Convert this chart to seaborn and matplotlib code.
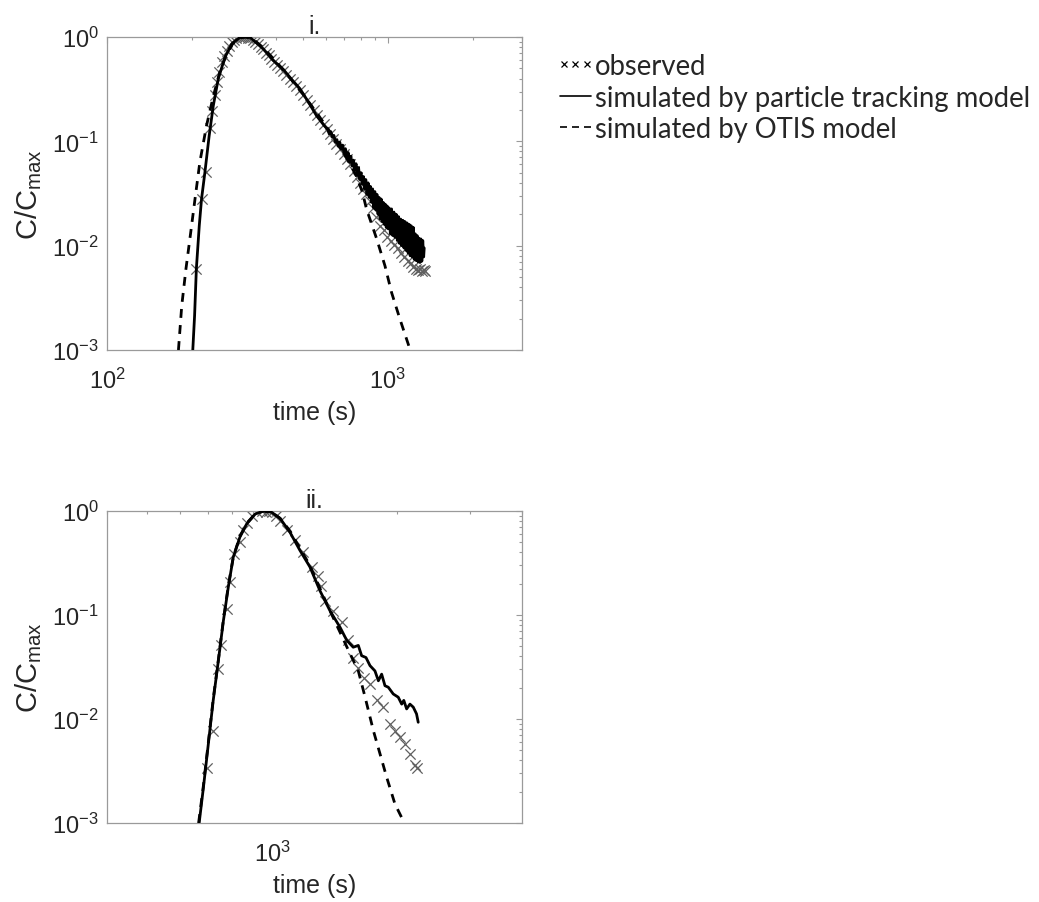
import numpy as np
import pandas as pd
import matplotlib
matplotlib.use("Agg")
import matplotlib.pyplot as plt
import seaborn as sns
from matplotlib.lines import Line2D
from matplotlib.legend_handler import HandlerLine2D
from matplotlib.ticker import LogLocator, NullFormatter

# ---- panel i. : observed (time s, C/Cmax)
obs1_t = [208, 218, 225, 233, 237, 242, 247, 251, 256, 261, 267, 272, 278, 283, 289, 294,
          300, 305, 311, 317, 323, 330, 337, 344, 352, 360, 368, 376, 385, 394, 403, 413,
          424, 435, 447, 459, 472, 486, 500, 515, 530, 545, 560, 575, 590, 605, 620, 638,
          655, 675, 695, 715, 735, 755, 775, 795, 815, 835, 860, 885, 910, 937, 965, 995,
          1025, 1055, 1085, 1115, 1145, 1175, 1205, 1230, 1255, 1280, 1300, 1320, 1340, 1355]
obs1_c = [0.006, 0.028, 0.051, 0.134, 0.197, 0.28, 0.37, 0.46, 0.57, 0.66, 0.74, 0.82, 0.89, 0.94, 0.98, 1.0,
          1.0, 0.99, 1.0, 0.98, 0.97, 0.93, 0.89, 0.85, 0.80, 0.76, 0.71, 0.67, 0.62, 0.58, 0.54, 0.50,
          0.47, 0.43, 0.40, 0.37, 0.34, 0.31, 0.28, 0.25, 0.225, 0.20, 0.18, 0.16, 0.145, 0.13, 0.118, 0.105,
          0.095, 0.085, 0.075, 0.067, 0.060, 0.052, 0.046, 0.040, 0.035, 0.031, 0.027, 0.023, 0.019, 0.0155, 0.014, 0.012,
          0.011, 0.0102, 0.0095, 0.0085, 0.0078, 0.0072, 0.0068, 0.0063, 0.0060, 0.0058, 0.0060, 0.0057, 0.0058, 0.0057]

# ---- panel i. : particle tracking model
pt1_t = [202, 205, 208, 213, 217, 223, 231, 239, 249, 263, 278, 297, 310, 323, 340, 360, 390, 424,
         455, 486, 520, 557, 595, 610, 618, 626, 634, 642, 650, 658, 666, 674, 682, 690, 698,
         706, 714, 722, 730, 738, 746, 754, 762, 770, 778, 786, 794, 802, 810, 818, 826, 834,
         842, 850, 858, 866, 874, 882, 890, 898, 906, 914, 922, 930, 938, 946, 954, 962, 970,
         978, 986, 994, 1002, 1010, 1020, 1030, 1040, 1050, 1060, 1070, 1080, 1090, 1100, 1110,
         1120, 1130, 1140, 1150, 1160, 1170, 1180, 1190, 1200, 1210, 1220, 1230, 1240, 1250,
         1260, 1270, 1280, 1290, 1300, 1310, 1320, 1330, 1340, 1346]
pt1_c = [0.001, 0.00213, 0.006, 0.0155, 0.028, 0.050, 0.113, 0.22, 0.40, 0.64, 0.86, 0.99, 1.0, 0.99, 0.88, 0.77, 0.60, 0.49,
         0.39, 0.32, 0.24, 0.176, 0.14, 0.130, 0.118, 0.124, 0.110, 0.114, 0.098, 0.104, 0.090, 0.098, 0.084, 0.092, 0.076,
         0.085, 0.070, 0.078, 0.063, 0.072, 0.058, 0.066, 0.053, 0.061, 0.047, 0.056, 0.043, 0.050, 0.039, 0.046, 0.035, 0.043,
         0.031, 0.040, 0.029, 0.037, 0.026, 0.035, 0.023, 0.033, 0.022, 0.031, 0.020, 0.029, 0.018, 0.028, 0.017, 0.026, 0.016,
         0.025, 0.015, 0.024, 0.0145, 0.023, 0.013, 0.0225, 0.0125, 0.021, 0.012, 0.020, 0.0112, 0.019, 0.0105, 0.018,
         0.010, 0.0175, 0.0095, 0.017, 0.009, 0.0165, 0.0085, 0.016, 0.008, 0.0155, 0.0078, 0.015, 0.0074, 0.013,
         0.0072, 0.0125, 0.007, 0.0118, 0.0069, 0.0116, 0.0071, 0.0112, 0.0078, 0.0095]

# ---- panel i. : OTIS model
otis1_t = [179.6, 184.5, 191, 198.6, 205.7, 214, 226, 239, 252, 265, 280, 297, 312, 330, 360, 400,
           450, 500, 560, 640, 720, 770, 810, 839, 912, 976, 1030, 1103, 1197, 1200]
otis1_c = [0.001, 0.00265, 0.006, 0.0134, 0.028, 0.063, 0.141, 0.27, 0.46, 0.66, 0.86, 0.98, 1.0, 0.96, 0.79, 0.58,
           0.40, 0.28, 0.185, 0.11, 0.066, 0.047, 0.033, 0.0224, 0.0116, 0.0064, 0.00356, 0.00198, 0.00102, 0.001]

# ---- panel ii. : observed
obs2_t = [698, 721, 742, 751, 780, 791, 809, 836, 852, 870, 893, 918, 944, 966, 985, 998, 1020, 1045,
          1083, 1135, 1189, 1246, 1292, 1315, 1340, 1403, 1471, 1526, 1568, 1613, 1661, 1721, 1786,
          1853, 1923, 1977, 2033, 2089, 2148, 2208, 2228]
obs2_c = [0.0034, 0.0077, 0.030, 0.051, 0.114, 0.206, 0.386, 0.50, 0.65, 0.76, 0.90, 0.98, 1.0, 0.97, 0.99, 0.98, 0.90, 0.81,
          0.65, 0.53, 0.40, 0.29, 0.239, 0.19, 0.137, 0.110, 0.085, 0.057, 0.039, 0.031, 0.025, 0.0217, 0.0151,
          0.0130, 0.0090, 0.0077, 0.0067, 0.0058, 0.0046, 0.0036, 0.0034]

# ---- panel ii. : particle tracking model
pt2_t = [667, 683, 702, 721, 742, 763, 784, 806, 836, 868, 910, 953, 998, 1045, 1105, 1166, 1233, 1304,
         1378, 1458, 1513, 1568, 1613, 1643, 1683, 1721, 1769, 1803, 1836, 1870, 1905, 1958, 2013,
         2052, 2076, 2109, 2148, 2188, 2228, 2249]
pt2_c = [0.001, 0.0022, 0.0058, 0.015, 0.0364, 0.088, 0.185, 0.36, 0.56, 0.75, 0.935, 1.0, 0.97, 0.85, 0.62, 0.42, 0.29, 0.171,
         0.110, 0.076, 0.057, 0.049, 0.051, 0.0406, 0.039, 0.0326, 0.029, 0.0233, 0.027, 0.0209, 0.0202, 0.0174, 0.0162,
         0.0139, 0.0151, 0.0125, 0.0139, 0.0130, 0.0112, 0.0093]

# ---- panel ii. : OTIS model
otis2_t = [665, 683, 702, 721, 742, 763, 784, 806, 836, 868, 910, 953, 998, 1045, 1105, 1166, 1233, 1304,
           1378, 1458, 1530, 1613, 1675, 1754, 1820, 1888, 1977, 2070, 2080]
otis2_c = [0.001, 0.0023, 0.006, 0.0155, 0.037, 0.09, 0.19, 0.36, 0.57, 0.76, 0.94, 1.0, 0.97, 0.85, 0.64, 0.44, 0.30, 0.18,
           0.11, 0.068, 0.045, 0.029, 0.0162, 0.0077, 0.0046, 0.00275, 0.00152, 0.00105, 0.001]

titles = ["i.", "ii."]
xlims = [(100, 3000), (400, 4000)]
legend_labels = ["observed", "simulated by particle tracking model", "simulated by OTIS model"]

sns.set_theme(style="white")
plt.rcParams["font.family"] = ["Liberation Sans", "DejaVu Sans"]
plt.rcParams["mathtext.default"] = "regular"

fig = plt.figure(figsize=(10.39, 9.03), dpi=100)
W, H = 1039, 903
ax1 = fig.add_axes([107 / W, (H - 351) / H, 415 / W, 313 / H])
ax2 = fig.add_axes([107 / W, (H - 824) / H, 415 / W, 312 / H])

panels = [
    (ax1, obs1_t, obs1_c, pt1_t, pt1_c, otis1_t, otis1_c),
    (ax2, obs2_t, obs2_c, pt2_t, pt2_c, otis2_t, otis2_c),
]

for i, (ax, ot, oc, pt, pc, st, sc) in enumerate(panels):
    obs = pd.DataFrame({"t": ot, "c": oc})
    ptm = pd.DataFrame({"t": pt, "c": pc})
    otis = pd.DataFrame({"t": st, "c": sc})

    sns.scatterplot(data=obs, x="t", y="c", ax=ax, marker="x", s=55,
                    color="#606060", linewidth=0.9, zorder=2)
    sns.lineplot(data=otis, x="t", y="c", ax=ax, sort=False, estimator=None,
                 color="black", linewidth=2.0, linestyle=(0, (3.2, 2.6)), zorder=3)
    sns.lineplot(data=ptm, x="t", y="c", ax=ax, sort=False, estimator=None,
                 color="black", linewidth=2.0, zorder=4)

    ax.set_xscale("log")
    ax.set_yscale("log")
    ax.set_xlim(*xlims[i])
    ax.set_ylim(1e-3, 1)
    ax.set_yticks([1e-3, 1e-2, 1e-1, 1])
    ax.xaxis.set_minor_locator(LogLocator(base=10, subs=np.arange(2, 10)))
    ax.yaxis.set_minor_locator(LogLocator(base=10, subs=np.arange(2, 10)))
    ax.xaxis.set_minor_formatter(NullFormatter())
    ax.yaxis.set_minor_formatter(NullFormatter())

    for sp in ax.spines.values():
        sp.set_visible(True)
        sp.set_color("#9a9a9a")
        sp.set_linewidth(0.9)
    ax.tick_params(which="both", direction="in", top=True, right=True,
                   color="#9a9a9a", width=0.8, labelsize=17, labelcolor="#262626")
    ax.tick_params(which="major", length=4)
    ax.tick_params(which="minor", length=2)
    ax.tick_params(axis="x", which="major", pad=13)
    ax.tick_params(axis="y", which="major", pad=6)

    ax.set_xlabel("time (s)", fontsize=18, color="#262626", labelpad=5)
    ax.set_ylabel("C/C$_{max}$", fontsize=21, color="#262626", labelpad=6)
    ax.set_title(titles[i], fontsize=18, color="#262626", pad=3)
    ax.patch.set_facecolor("white")

handles = [
    Line2D([], [], linestyle="none", marker="x", markersize=4.5, markeredgewidth=0.9, color="black"),
    Line2D([], [], linestyle="-", linewidth=1.2, color="black"),
    Line2D([], [], linestyle=(0, (4.2, 3.0)), linewidth=1.2, color="black"),
]
fig.legend(handles, legend_labels, loc="upper left", bbox_to_anchor=(560 / W, 1 - 54 / H),
           frameon=False, numpoints=3, handlelength=1.12, handletextpad=0.16,
           labelspacing=0.2, borderaxespad=0, borderpad=0,
           handler_map={handles[0]: HandlerLine2D(marker_pad=0.15),
                        handles[1]: HandlerLine2D(marker_pad=0),
                        handles[2]: HandlerLine2D(marker_pad=0)},
           prop={"family": ["Lato", "DejaVu Sans"], "size": 19.8})

fig.savefig("out.png", dpi=100, facecolor="white")
